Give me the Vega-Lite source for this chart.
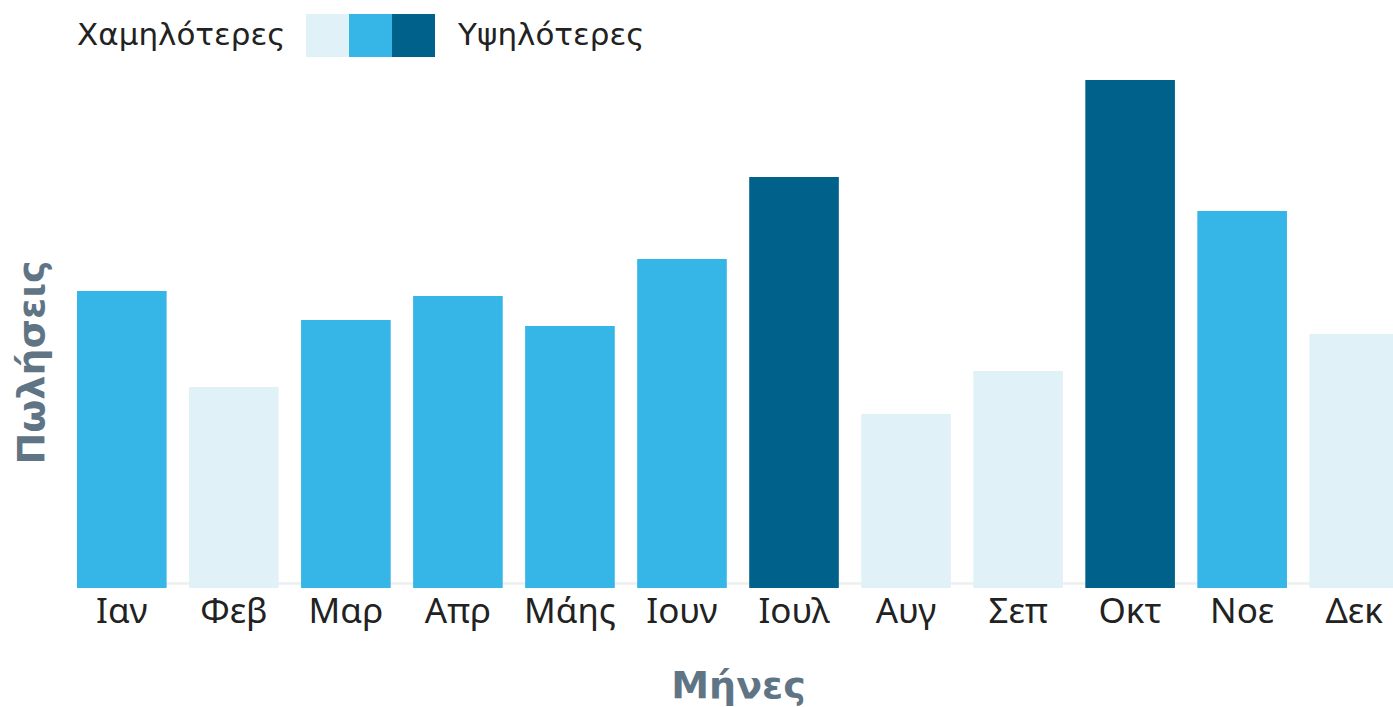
{
  "$schema": "https://vega.github.io/schema/vega-lite/v6.json",
  "autosize": {"type": "none"},
  "width": 1322,
  "height": 508,
  "padding": {"left": 77, "top": 80, "right": 0, "bottom": 119},
  "background": "white",
  "data": {
    "values": [
      {"month": "Ιαν", "sales": 297, "level": "mid"},
      {"month": "Φεβ", "sales": 201, "level": "low"},
      {"month": "Μαρ", "sales": 268, "level": "mid"},
      {"month": "Απρ", "sales": 292, "level": "mid"},
      {"month": "Μάης", "sales": 262, "level": "mid"},
      {"month": "Ιουν", "sales": 329, "level": "mid"},
      {"month": "Ιουλ", "sales": 411, "level": "high"},
      {"month": "Αυγ", "sales": 174, "level": "low"},
      {"month": "Σεπ", "sales": 217, "level": "low"},
      {"month": "Οκτ", "sales": 508, "level": "high"},
      {"month": "Νοε", "sales": 377, "level": "mid"},
      {"month": "Δεκ", "sales": 254, "level": "low"}
    ]
  },
  "mark": {"type": "bar"},
  "encoding": {
    "x": {
      "field": "month",
      "type": "nominal",
      "sort": null,
      "scale": {"paddingInner": 0.2, "paddingOuter": 0},
      "axis": {
        "title": "Μήνες",
        "titleFont": "DejaVu Sans",
        "titleFontWeight": "bold",
        "titleFontSize": 38,
        "titleColor": "#5F7585",
        "titlePadding": 38,
        "labelAngle": 0,
        "labelFont": "Noto Sans",
        "labelFontSize": 35,
        "labelColor": "#222222",
        "labelPadding": 6,
        "ticks": false,
        "domain": false,
        "grid": false
      }
    },
    "y": {
      "field": "sales",
      "type": "quantitative",
      "scale": {"domain": [0, 508], "nice": false},
      "axis": {
        "title": "Πωλήσεις",
        "titleFont": "DejaVu Sans",
        "titleFontWeight": "bold",
        "titleFontSize": 38,
        "titleColor": "#5F7585",
        "titlePadding": 26,
        "titleY": 282,
        "labels": false,
        "ticks": false,
        "domain": false,
        "grid": true,
        "values": [5],
        "gridColor": "#EEEEEE",
        "gridWidth": 2.5
      }
    },
    "color": {
      "field": "level",
      "type": "nominal",
      "scale": {"domain": ["low", "mid", "high"], "range": ["#E0F1F8", "#35B6E7", "#00628B"]},
      "legend": {
        "orient": "top",
        "direction": "horizontal",
        "offset": 23,
        "title": "Χαμηλότερες",
        "titleOrient": "left",
        "titleFont": "DejaVu Sans",
        "titleFontWeight": "normal",
        "titleFontSize": 31,
        "titleColor": "#222222",
        "titlePadding": 20,
        "titleBaseline": "middle",
        "titleLimit": 600,
        "symbolType": "square",
        "symbolSize": 1849,
        "symbolStrokeWidth": 0,
        "symbolOpacity": 1,
        "columnPadding": 0,
        "labelOffset": 0,
        "labelLimit": 600,
        "labelFont": "DejaVu Sans",
        "labelFontSize": 31,
        "labelColor": "#222222",
        "labelExpr": "datum.value == 'high' ? 'Υψηλότερες' : ''",
        "encode": {
          "labels": {
            "update": {
              "dx": {"signal": "datum.value == 'high' ? 23 : 0"}
            }
          }
        }
      }
    }
  },
  "config": {"view": {"stroke": null}}
}
